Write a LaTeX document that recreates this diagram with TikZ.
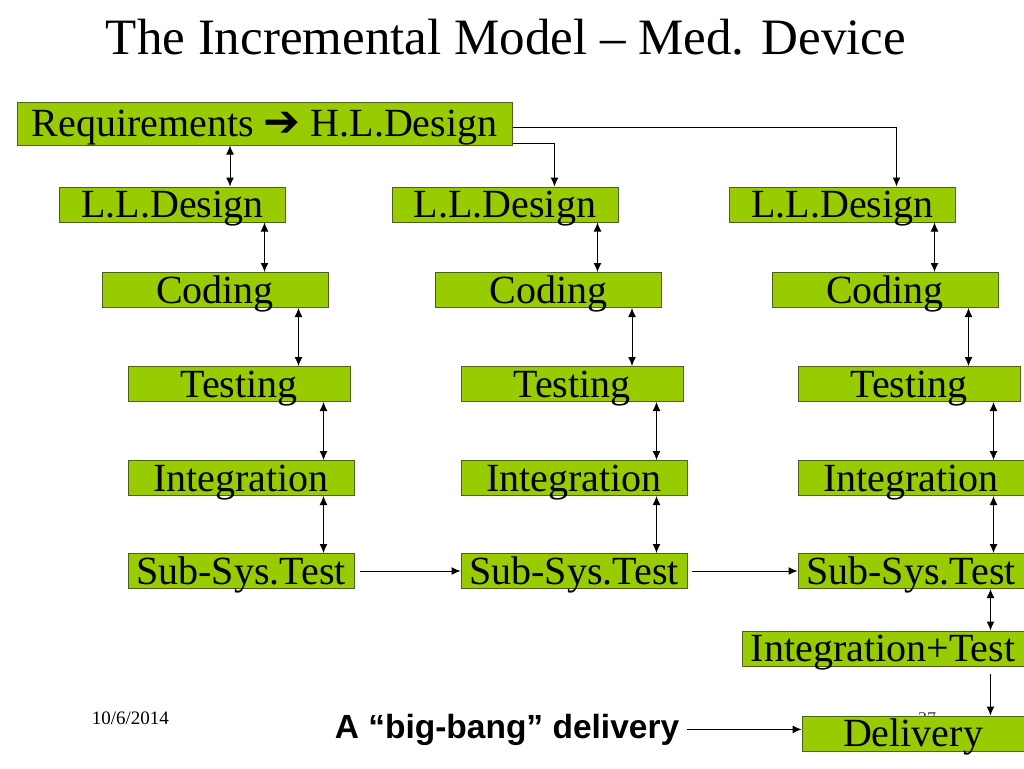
\documentclass[tikz,border=0pt]{standalone}
\usepackage{fontspec}
\setmainfont{Liberation Serif}
\newfontfamily\bangfont{Liberation Sans}
\newfontfamily\arrowfont{DejaVu Sans}
\usetikzlibrary{arrows.meta}
\definecolor{stagegreen}{RGB}{153,204,0}
\definecolor{stageedge}{RGB}{76,96,24}
\begin{document}
\begin{tikzpicture}[x=1pt,y=-1pt,line width=1pt,
    >={Latex[length=9pt,width=8pt]},
    stage/.style={draw=stageedge,fill=stagegreen,line width=1pt,inner sep=0pt,
      minimum width=226pt,minimum height=35pt,text height=29pt,text depth=3pt,
      font=\fontsize{40}{42}\selectfont}]
  \useasboundingbox (0,0) rectangle (1024,768);
  \node[anchor=base,font=\fontsize{51}{56}\selectfont] (title) at (506,55)
    {The Incremental Model – Med. Device};
  \node[anchor=base west,font=\fontsize{19}{20}\selectfont] (date) at (88,724) {10/6/2014};
  \node[anchor=base,text=darkgray,font=\fontsize{18}{20}\selectfont] (page) at (927,724) {27};
  \node[anchor=base,inner xsep=7pt,font=\bangfont\bfseries\fontsize{33.5}{36}\selectfont]
    (bang) at (507,738) {A “big-bang” delivery};
  \draw
    (264.5,123.5) node[stage,minimum width=495pt,minimum height=43pt] (req)
      {Requirements {\arrowfont\fontsize{44}{44}\selectfont ➔} H.L.Design}
    (172.5,204.5) node[stage] (lla){L.L.Design}
    (215,290) node[stage] (coda){Coding}
    (239,384) node[stage,minimum width=222pt] (testa){Testing}
    (241,478) node[stage] (inta){Integration}
    (241,571) node[stage] (ssta){Sub-Sys.Test}
    (505,204.5) node[stage] (llb){L.L.Design}
    (548.5,290) node[stage] (codb){Coding}
    (572,384) node[stage,minimum width=222pt] (testb){Testing}
    (574,478) node[stage] (intb){Integration}
    (574,571) node[stage] (sstb){Sub-Sys.Test}
    (842.5,204.5) node[stage] (llc){L.L.Design}
    (885,290) node[stage] (codc){Coding}
    (909,384) node[stage,minimum width=222pt] (testc){Testing}
    (911,478) node[stage] (intc){Integration}
    (911,571) node[stage] (sstc){Sub-Sys.Test}
    (883,648.5) node[stage,minimum width=282pt] (intt){Integration+Test}
    (913,733.5) node[stage,minimum width=222pt] (deliv){Delivery};
  \begin{scope}[<->]
    \draw ([xshift=57.5pt]lla.north) -- ([xshift=57.5pt]lla.north |- req.south);
    \draw ([xshift=-21.5pt]lla.south east) -- ([xshift=-21.5pt]lla.south east |- coda.north);
    \draw ([xshift=-30pt]coda.south east) -- ([xshift=-30pt]coda.south east |- testa.north);
    \draw ([xshift=-27pt]testa.south east) -- ([xshift=-27pt]testa.south east |- inta.north);
    \draw ([xshift=-31pt]inta.south east) -- ([xshift=-31pt]inta.south east |- ssta.north);
    \draw ([xshift=-21pt]llb.south east) -- ([xshift=-21pt]llb.south east |- codb.north);
    \draw ([xshift=-30pt]codb.south east) -- ([xshift=-30pt]codb.south east |- testb.north);
    \draw ([xshift=-27pt]testb.south east) -- ([xshift=-27pt]testb.south east |- intb.north);
    \draw ([xshift=-31pt]intb.south east) -- ([xshift=-31pt]intb.south east |- sstb.north);
    \draw ([xshift=-21.5pt]llc.south east) -- ([xshift=-21.5pt]llc.south east |- codc.north);
    \draw ([xshift=-30pt]codc.south east) -- ([xshift=-30pt]codc.south east |- testc.north);
    \draw ([xshift=-27pt]testc.south east) -- ([xshift=-27pt]testc.south east |- intc.north);
    \draw ([xshift=-31pt]intc.south east) -- ([xshift=-31pt]intc.south east |- sstc.north);
    \draw ([xshift=-34pt]sstc.south east) -- ([xshift=-34pt]sstc.south east |- intt.north);
  \end{scope}
  \begin{scope}[->]
    \draw ([yshift=2pt]req.south east) -| ([xshift=-64pt]llb.north east);
    \draw ([yshift=-3.5pt]req.east) -| ([xshift=-59.5pt]llc.north east);
    \draw ([xshift=5pt]ssta.east) -- (sstb.west);
    \draw ([xshift=4pt]sstb.east) -- (sstc.west);
    \draw[shorten <=7pt] ([xshift=-34pt]intt.south east) -- ([xshift=-34pt]intt.south east |- deliv.north);
    \draw (bang.east) -- (bang.east -| deliv.west);
  \end{scope}
\end{tikzpicture}
\end{document}
